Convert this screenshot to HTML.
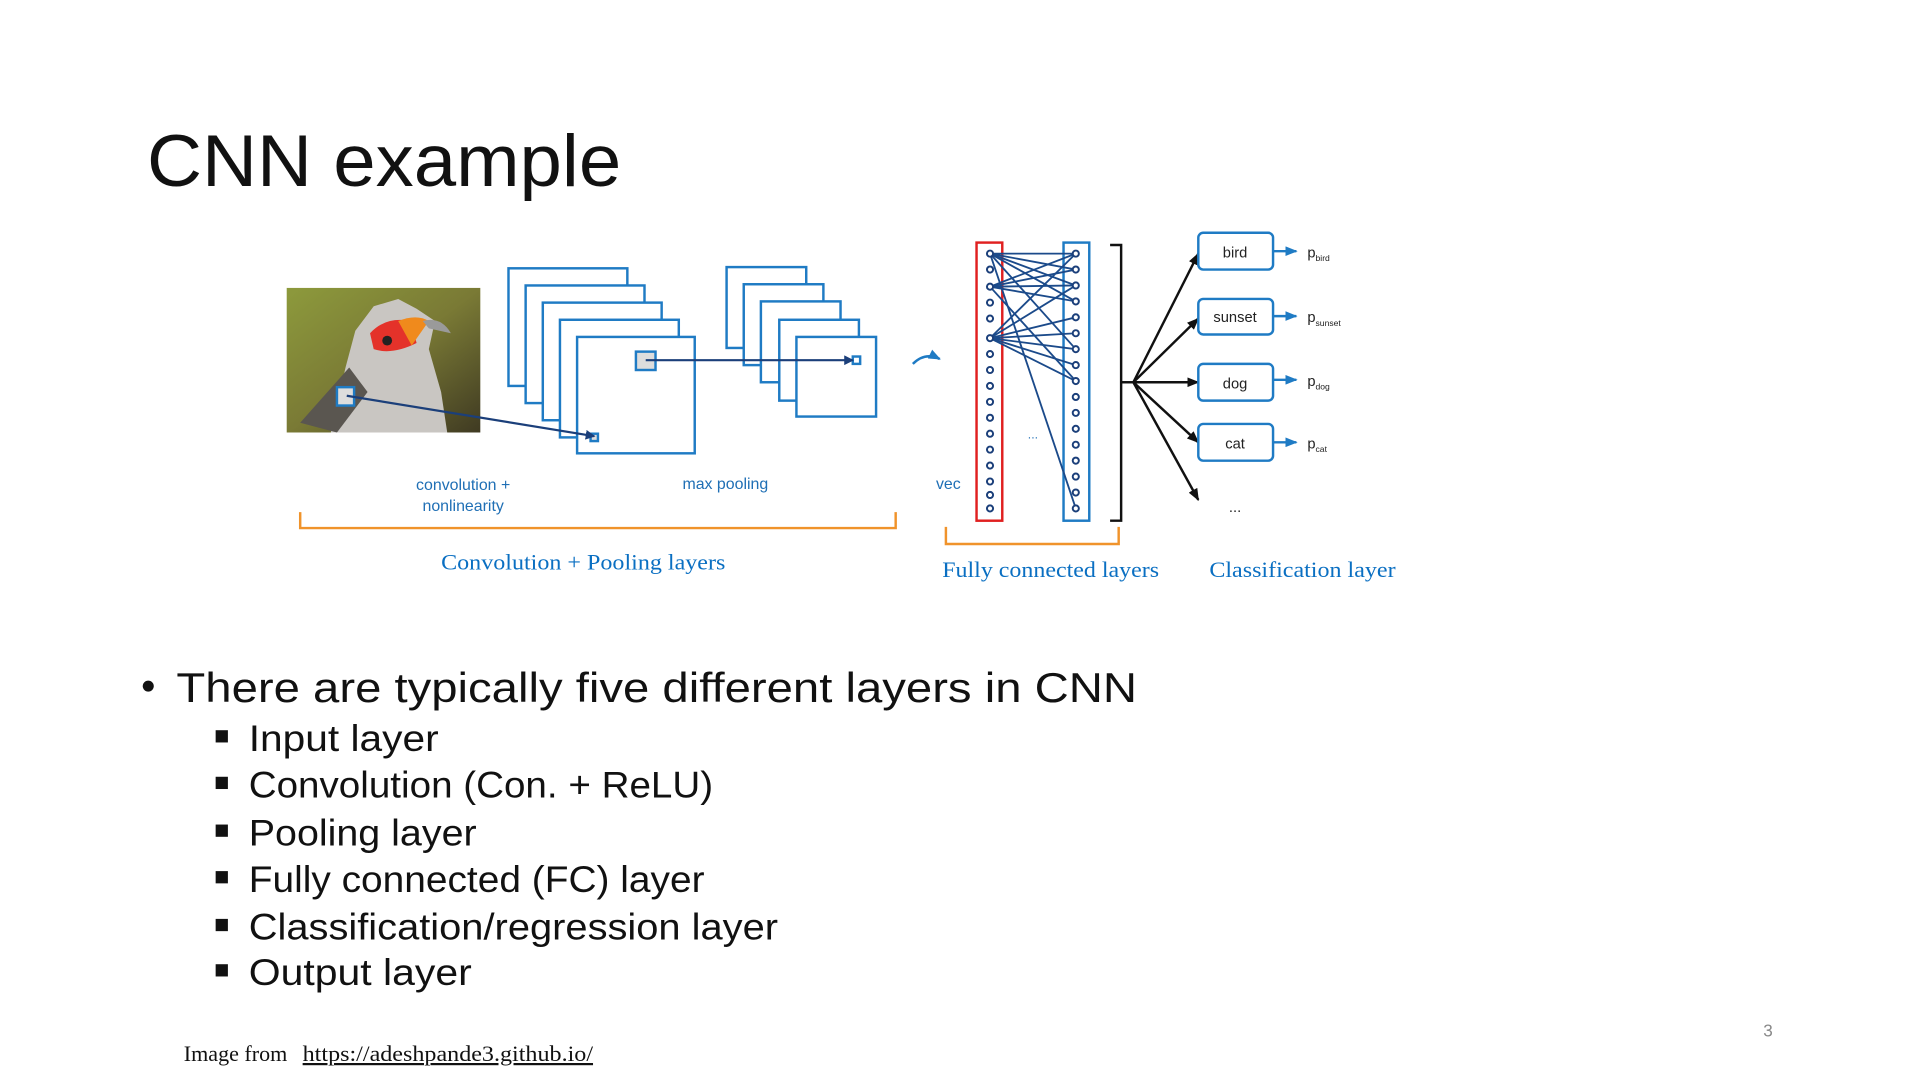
<!DOCTYPE html>
<html><head><meta charset="utf-8"><style>
html,body{margin:0;padding:0;background:#fff;width:1920px;height:1080px;overflow:hidden}
svg{display:block}
.sans{font-family:"Liberation Sans",sans-serif}
.serif{font-family:"Liberation Serif",serif}
</style></head><body>
<svg width="1920" height="1080" viewBox="0 0 1567 881.5" preserveAspectRatio="none" xmlns="http://www.w3.org/2000/svg">
<defs>
<marker id="an" markerWidth="8" markerHeight="8" refX="7" refY="4" orient="auto" markerUnits="userSpaceOnUse"><path d="M0,0 L8,4 L0,8 z" fill="#1b3f7a"/></marker>
<marker id="ak" markerWidth="10" markerHeight="8" refX="9" refY="4" orient="auto" markerUnits="userSpaceOnUse"><path d="M0,0 L10,4 L0,8 z" fill="#111"/></marker>
<marker id="ab" markerWidth="10" markerHeight="8" refX="9" refY="4" orient="auto" markerUnits="userSpaceOnUse"><path d="M0,0 L10,4 L0,8 z" fill="#1f7bc4"/></marker>
<linearGradient id="bg" x1="0" y1="0" x2="1" y2="1"><stop offset="0" stop-color="#8d9a3c"/><stop offset="0.5" stop-color="#7a7a35"/><stop offset="1" stop-color="#3f3a22"/></linearGradient>
</defs>
<text x="120" y="152" class="sans" font-size="60" fill="#111" textLength="387" lengthAdjust="spacingAndGlyphs">CNN example</text>

<rect x="234" y="235" width="158" height="118" fill="url(#bg)"/>
<path d="M270,353 L282,300 L290,270 L305,250 L325,244 L340,252 L355,262 L350,285 L360,320 L365,353 z" fill="#c9c6c2"/>
<path d="M245,345 L285,300 L300,320 L275,353 z" fill="#5a5650"/>
<path d="M302,272 Q315,258 335,262 L340,280 Q320,290 305,285 z" fill="#e4322a"/>
<path d="M325,262 Q340,256 350,262 L336,282 z" fill="#f08a1c"/>
<path d="M345,262 Q360,258 368,272 L350,268 z" fill="#9a9a9a"/>
<circle cx="316" cy="278" r="4" fill="#222"/>
<rect x="275" y="316" width="14" height="15" fill="#ddd" stroke="#1f7bc4" stroke-width="2"/>

<g fill="#fff" stroke="#1f7bc4" stroke-width="2">
<rect x="415" y="219" width="97" height="96"/>
<rect x="429" y="233" width="97" height="96"/>
<rect x="443" y="247" width="97" height="96"/>
<rect x="457" y="261" width="97" height="96"/>
<rect x="471" y="275" width="96" height="95"/>
<rect x="482" y="354" width="6" height="6" fill="#ddd"/>
<rect x="519" y="287" width="16" height="15" fill="#ddd"/>
</g>
<g fill="#fff" stroke="#1f7bc4" stroke-width="2">
<rect x="593" y="218" width="65" height="66"/>
<rect x="607" y="232" width="65" height="66"/>
<rect x="621" y="246" width="65" height="66"/>
<rect x="636" y="261" width="65" height="66"/>
<rect x="650" y="275" width="65" height="65"/>
<rect x="696" y="291" width="6" height="6"/>
</g>
<line x1="283" y1="323" x2="485" y2="356" stroke="#1b3f7a" stroke-width="1.8" marker-end="url(#an)"/>
<line x1="527" y1="294" x2="696" y2="294" stroke="#1b3f7a" stroke-width="1.8" marker-end="url(#an)"/>
<path d="M745,297 Q755,287 767,293" fill="none" stroke="#1f7bc4" stroke-width="2" marker-end="url(#ab)"/>

<g class="sans" font-size="13" fill="#1f6fb5" text-anchor="middle">
<text x="378" y="400">convolution +</text>
<text x="378" y="417">nonlinearity</text>
<text x="592" y="399">max pooling</text>
<text x="774" y="399">vec</text>
</g>

<rect x="797" y="198" width="21" height="227" fill="none" stroke="#e02020" stroke-width="2"/>
<rect x="868" y="198" width="21" height="227" fill="none" stroke="#1f7bc4" stroke-width="2"/>
<g stroke="#1b4a8a" stroke-width="1.5" fill="none">
<line x1="808" y1="207" x2="878" y2="207"/><line x1="808" y1="207" x2="878" y2="220"/><line x1="808" y1="207" x2="878" y2="233"/><line x1="808" y1="207" x2="878" y2="246"/><line x1="808" y1="207" x2="878" y2="285"/><line x1="808" y1="207" x2="878" y2="415"/>
<line x1="808" y1="234" x2="878" y2="207"/><line x1="808" y1="234" x2="878" y2="220"/><line x1="808" y1="234" x2="878" y2="233"/><line x1="808" y1="234" x2="878" y2="246"/><line x1="808" y1="234" x2="878" y2="311"/>
<line x1="808" y1="276" x2="878" y2="207"/><line x1="808" y1="276" x2="878" y2="233"/><line x1="808" y1="276" x2="878" y2="259"/><line x1="808" y1="276" x2="878" y2="272"/><line x1="808" y1="276" x2="878" y2="285"/><line x1="808" y1="276" x2="878" y2="298"/><line x1="808" y1="276" x2="878" y2="311"/>
</g>
<g fill="#fff" stroke="#1b3f7a" stroke-width="1.6">
<circle cx="808" cy="207" r="2.5"/><circle cx="808" cy="220" r="2.5"/><circle cx="808" cy="234" r="2.5"/><circle cx="808" cy="247" r="2.5"/><circle cx="808" cy="260" r="2.5"/><circle cx="808" cy="276" r="2.5"/><circle cx="808" cy="289" r="2.5"/><circle cx="808" cy="302" r="2.5"/><circle cx="808" cy="315" r="2.5"/><circle cx="808" cy="328" r="2.5"/><circle cx="808" cy="341" r="2.5"/><circle cx="808" cy="354" r="2.5"/><circle cx="808" cy="367" r="2.5"/><circle cx="808" cy="380" r="2.5"/><circle cx="808" cy="393" r="2.5"/><circle cx="808" cy="404" r="2.5"/><circle cx="808" cy="415" r="2.5"/>
<circle cx="878" cy="207" r="2.5"/><circle cx="878" cy="220" r="2.5"/><circle cx="878" cy="233" r="2.5"/><circle cx="878" cy="246" r="2.5"/><circle cx="878" cy="259" r="2.5"/><circle cx="878" cy="272" r="2.5"/><circle cx="878" cy="285" r="2.5"/><circle cx="878" cy="298" r="2.5"/><circle cx="878" cy="311" r="2.5"/><circle cx="878" cy="324" r="2.5"/><circle cx="878" cy="337" r="2.5"/><circle cx="878" cy="350" r="2.5"/><circle cx="878" cy="363" r="2.5"/><circle cx="878" cy="376" r="2.5"/><circle cx="878" cy="389" r="2.5"/><circle cx="878" cy="402" r="2.5"/><circle cx="878" cy="415" r="2.5"/>
</g>
<text x="843" y="358" class="sans" font-size="10" fill="#1f6fb5" text-anchor="middle">...</text>

<path d="M906,200 L915,200 L915,425 L906,425" fill="none" stroke="#111" stroke-width="2"/>
<g stroke="#111" stroke-width="2" fill="none">
<line x1="915" y1="312" x2="925" y2="312"/>
<line x1="925" y1="312" x2="978" y2="207" marker-end="url(#ak)"/>
<line x1="925" y1="312" x2="978" y2="260" marker-end="url(#ak)"/>
<line x1="925" y1="312" x2="978" y2="312" marker-end="url(#ak)"/>
<line x1="925" y1="312" x2="978" y2="361" marker-end="url(#ak)"/>
<line x1="925" y1="312" x2="978" y2="408" marker-end="url(#ak)"/>
</g>
<g fill="#fff" stroke="#1f7bc4" stroke-width="2">
<rect x="978" y="190" width="61" height="30" rx="4"/>
<rect x="978" y="244" width="61" height="29" rx="4"/>
<rect x="978" y="297" width="61" height="30" rx="4"/>
<rect x="978" y="346" width="61" height="30" rx="4"/>
</g>
<g stroke="#1f7bc4" stroke-width="2">
<line x1="1039" y1="205" x2="1058" y2="205" marker-end="url(#ab)"/>
<line x1="1039" y1="258" x2="1058" y2="258" marker-end="url(#ab)"/>
<line x1="1039" y1="310" x2="1058" y2="310" marker-end="url(#ab)"/>
<line x1="1039" y1="361" x2="1058" y2="361" marker-end="url(#ab)"/>
</g>
<g class="sans" font-size="12" fill="#222" text-anchor="middle">
<text x="1008" y="210">bird</text><text x="1008" y="263">sunset</text><text x="1008" y="317">dog</text><text x="1008" y="366">cat</text>
<text x="1008" y="418">...</text>
</g>
<g class="sans" font-size="12" fill="#222">
<text x="1067" y="210">p<tspan font-size="7" dy="3">bird</tspan></text>
<text x="1067" y="263">p<tspan font-size="7" dy="3">sunset</tspan></text>
<text x="1067" y="315">p<tspan font-size="7" dy="3">dog</tspan></text>
<text x="1067" y="366">p<tspan font-size="7" dy="3">cat</tspan></text>
</g>

<path d="M245,418 L245,431 L731,431 L731,418" fill="none" stroke="#f0932b" stroke-width="2"/>
<path d="M772,430 L772,444 L913,444 L913,430" fill="none" stroke="#f0932b" stroke-width="2"/>
<g class="serif" font-size="18" fill="#0a6fc2">
<text x="360" y="465" textLength="232" lengthAdjust="spacingAndGlyphs">Convolution + Pooling layers</text>
<text x="769" y="471" textLength="177" lengthAdjust="spacingAndGlyphs">Fully connected layers</text>
<text x="987" y="471" textLength="152" lengthAdjust="spacingAndGlyphs">Classification layer</text>
</g>

<g class="sans" fill="#111">
<circle cx="121" cy="560" r="4.5"/>
<text x="144" y="573" font-size="34" textLength="784" lengthAdjust="spacingAndGlyphs">There are typically five different layers in CNN</text>
<rect x="176" y="596" width="10" height="10"/>
<rect x="176" y="634" width="10" height="10"/>
<rect x="176" y="673" width="10" height="10"/>
<rect x="176" y="711" width="10" height="10"/>
<rect x="176" y="750" width="10" height="10"/>
<rect x="176" y="787" width="10" height="10"/>
<g font-size="30">
<text x="203" y="613" textLength="155" lengthAdjust="spacingAndGlyphs">Input layer</text>
<text x="203" y="651" textLength="379" lengthAdjust="spacingAndGlyphs">Convolution (Con. + ReLU)</text>
<text x="203" y="690" textLength="186" lengthAdjust="spacingAndGlyphs">Pooling layer</text>
<text x="203" y="728" textLength="372" lengthAdjust="spacingAndGlyphs">Fully connected (FC) layer</text>
<text x="203" y="767" textLength="432" lengthAdjust="spacingAndGlyphs">Classification/regression layer</text>
<text x="203" y="804" textLength="182" lengthAdjust="spacingAndGlyphs">Output layer</text>
</g>
</g>
<text x="150" y="866" class="serif" font-size="18" fill="#111">Image from</text>
<text x="247" y="866" class="serif" font-size="18" fill="#111" text-decoration="underline" textLength="237" lengthAdjust="spacingAndGlyphs">https://adeshpande3.github.io/</text>
<text x="1443" y="846" class="sans" font-size="14" fill="#888" text-anchor="middle">3</text>
</svg>
</body></html>
